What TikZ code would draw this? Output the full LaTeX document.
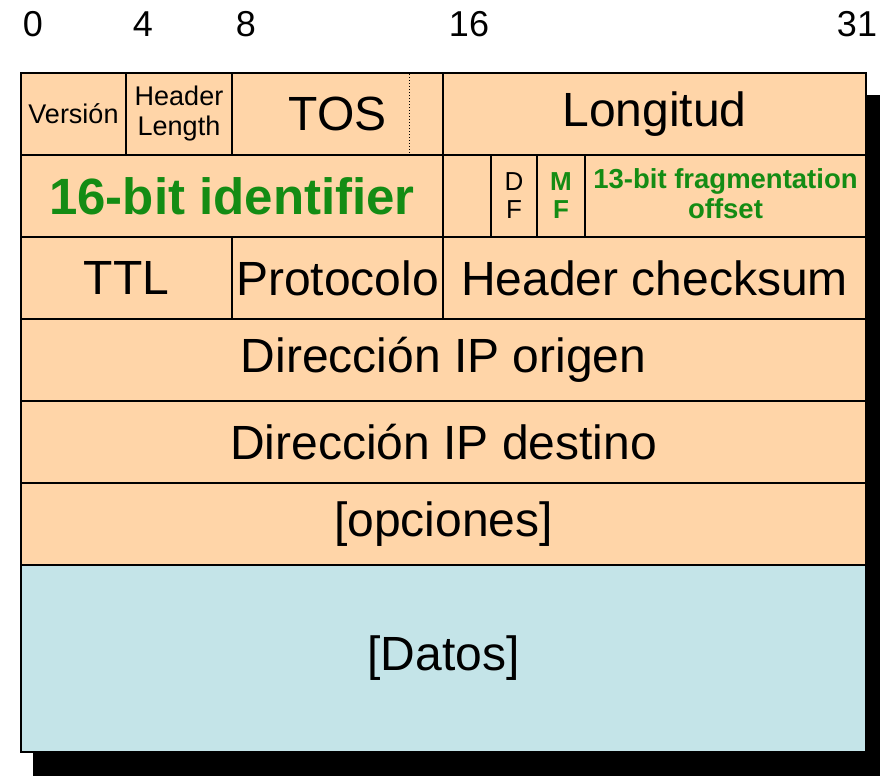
\documentclass[tikz,border=0pt]{standalone}
\usepackage{fontspec}
\setmainfont{Liberation Sans}
\usepackage{xcolor}
\usepackage{tikz}

\definecolor{peach}{RGB}{255,213,168}
\definecolor{datablue}{RGB}{196,228,232}
\definecolor{idgreen}{RGB}{20,140,20}
\newcommand{\hdrbig}{\fontsize{48}{54}\selectfont}
\newcommand{\hdrmid}{\fontsize{27}{30}\selectfont}
\newcommand{\hdrsmall}{\fontsize{26}{28}\selectfont}

\begin{document}
\begin{tikzpicture}[x=1pt,y=-1pt,
    cell/.style={draw,fill=peach,line width=1.5pt,inner sep=0pt,minimum height=82pt,align=center},
    bitnum/.style={inner sep=0pt,font=\fontsize{36}{40}\selectfont}]
    \useasboundingbox (0,0) rectangle (882,776);
    % shadow
    \fill[black] (33,95) rectangle (880,776);
    % bit positions
    \node[bitnum] (b0) at (33,24) {0};
    \node[bitnum] (b4) at (143,24) {4};
    \node[bitnum] (b8) at (246,24) {8};
    \node[bitnum] (b16) at (469,24) {16};
    \node[bitnum] (b31) at (857,24) {31};
    % first word
    \node[cell,minimum width=105pt,font=\hdrmid] (ver) at (73.5,114) {Versión};
    \node[cell,minimum width=106pt,font=\hdrmid] (hl) at (179,114) {Header\\Length};
    \node[cell,minimum width=211pt,font=\hdrbig] (tos) at (337.5,114) {TOS};
    \node[cell,minimum width=423pt,font=\hdrbig] (lon) at (654.5,114) {Longitud};
    \draw[dotted,line width=1pt] (409,74) -- (409,154);
    % second word
    \node[cell,minimum width=422pt,text=idgreen,font=\fontsize{51}{56}\selectfont\bfseries] (ident) at (232,196) {16-bit identifier};
    \node[cell,minimum width=48pt] (flag0) at (467,196) {};
    \node[cell,minimum width=46pt,font=\hdrsmall] (df) at (514,196) {D\\F};
    \node[cell,minimum width=48pt,text=idgreen,font=\hdrsmall\bfseries] (mf) at (561,196) {M\\F};
    \node[cell,minimum width=281pt,text=idgreen,font=\fontsize{27.5}{30}\selectfont\bfseries] (frag) at (725.5,196) {13-bit fragmentation\\offset\vphantom{g}};
    % third word
    \node[cell,minimum width=211pt,font=\hdrbig] (ttl) at (126.5,278) {TTL};
    \node[cell,minimum width=211pt,font=\hdrbig] (proto) at (337.5,278) {Protocolo};
    \node[cell,minimum width=423pt,font=\hdrbig] (cks) at (654.5,278) {Header checksum};
    % addresses and options
    \node[cell,minimum width=845pt,font=\hdrbig] (orig) at (443.5,360) {Dirección IP origen};
    \node[cell,minimum width=845pt,font=\hdrbig] (dest) at (443.5,442) {Dirección IP destino};
    \node[cell,minimum width=845pt,font=\hdrbig] (opc) at (443.5,524) {[opciones]};
    % payload
    \node[cell,fill=datablue,minimum width=845pt,minimum height=187pt,font=\hdrbig] (datos) at (443.5,658.5) {[Datos]};
\end{tikzpicture}
\end{document}
